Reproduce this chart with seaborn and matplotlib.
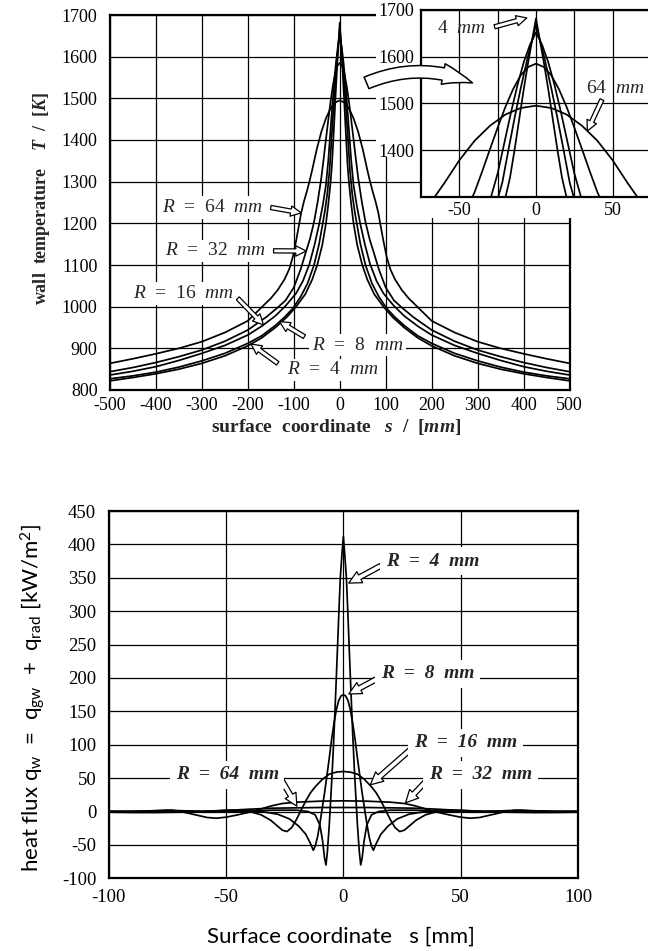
import numpy as np
import pandas as pd
import matplotlib
matplotlib.use("Agg")
import matplotlib.pyplot as plt
from matplotlib.patches import Rectangle, FancyArrowPatch
import seaborn as sns

# ---------------------------------------------------------------------------
# Wall temperature T [K] versus surface coordinate s [mm]; half-profiles for
# s >= 0, the distributions are symmetric about the stagnation line s = 0.
# ---------------------------------------------------------------------------
radii_mm = [4, 8, 16, 32, 64]

temp_s_r4 = [0, 2, 5, 8, 11, 14, 17, 20, 25, 30, 38, 49, 60, 75, 95, 115,
             140, 170, 200, 250, 300, 350, 400, 450, 500]
temp_T_r4 = [1682, 1645, 1590, 1530, 1465, 1400, 1340, 1298, 1245, 1200,
             1148, 1100, 1065, 1030, 1000, 975, 950, 925, 906, 882, 864,
             850, 839, 830, 822]

temp_s_r8 = [0, 3, 6, 10, 14, 18, 22, 27, 32, 37, 45, 56, 70, 85, 102, 120,
             140, 170, 200, 250, 300, 350, 400, 450, 500]
temp_T_r8 = [1668, 1630, 1590, 1532, 1468, 1400, 1330, 1272, 1232, 1200,
             1150, 1100, 1056, 1024, 996, 975, 955, 930, 912, 888, 870, 855,
             843, 834, 827]

temp_s_r16 = [0, 4, 8, 12, 16, 20, 25, 30, 37, 45, 55, 66, 80, 95, 117, 140,
              170, 200, 250, 300, 350, 400, 450, 500]
temp_T_r16 = [1652, 1625, 1588, 1540, 1485, 1425, 1350, 1292, 1243, 1197,
              1148, 1102, 1062, 1032, 1003, 978, 953, 932, 907, 888, 871,
              856, 845, 836]

temp_s_r32 = [0, 5, 10, 15, 20, 25, 30, 35, 40, 48, 56, 65, 74, 85, 100,
              118, 136, 160, 200, 250, 300, 350, 400, 450, 500]
temp_T_r32 = [1585, 1578, 1560, 1530, 1492, 1448, 1402, 1355, 1310, 1252,
              1203, 1162, 1130, 1090, 1046, 1015, 997, 975, 944, 917, 896,
              880, 866, 854, 844]

temp_s_r64 = [0, 10, 20, 30, 40, 50, 60, 66, 72, 78, 84, 88, 95, 102, 110,
              120, 135, 150, 164, 200, 250, 300, 350, 400, 450, 500]
temp_T_r64 = [1495, 1490, 1476, 1452, 1420, 1378, 1328, 1300, 1275, 1252,
              1225, 1200, 1158, 1120, 1090, 1066, 1040, 1020, 1005, 966, 938,
              916, 900, 887, 875, 864]

# ---------------------------------------------------------------------------
# Wall heat flux q_w [kW/m^2] versus s [mm]; half-profiles for s >= 0.
# ---------------------------------------------------------------------------
flux_s_r4 = [0, 0.6, 1.3, 2.0, 3.0, 4.0, 4.5, 5.2, 6.0, 6.8, 7.4, 8.0, 8.8,
             10, 12, 15, 20, 30, 45, 60, 75, 90, 100]
flux_q_r4 = [412, 385, 350, 290, 200, 115, 77, 30, -20, -60, -80, -70, -45,
             -20, -5, 0, 2, 2, 0, 0, 2, 0, 0]

flux_s_r8 = [0, 1, 2, 3, 4, 5, 6, 7, 8, 9, 10, 11, 12, 12.8, 14, 16, 19, 23,
             28, 35, 45, 60, 75, 90, 100]
flux_q_r8 = [175, 173, 166, 152, 132, 108, 80, 54, 28, 5, -18, -38, -52, -58,
             -48, -34, -22, -11, -4, 0, 1, 0, 1, 0, 0]

flux_s_r16 = [0, 3, 6, 9, 12, 14, 16, 18, 20, 22, 24, 26, 28, 31, 35, 40, 45,
              50, 60, 70, 80, 100]
flux_q_r16 = [60, 59, 56, 48, 37, 28, 16, 2, -12, -24, -30, -28, -22, -13, -5,
              0, 2, 2, 0, 0, 0, 0]

flux_s_r32 = [0, 10, 20, 26, 30, 35, 40, 45, 50, 54, 58, 63, 68, 73, 80, 90,
              100]
flux_q_r32 = [16, 15.5, 14, 12, 9, 4, -1, -5, -8.5, -10, -9, -5, -1, 2, 1, 0,
              0]

flux_s_r64 = [0, 10, 20, 30, 40, 50, 60, 70, 80, 90, 100]
flux_q_r64 = [6, 6, 5.5, 5, 3.5, 1.5, 0, -1, -1.5, -1.5, -1]

main_xticks = list(range(-500, 501, 100))
main_yticks = list(range(800, 1701, 100))
inset_xticks = [-50, -25, 0, 25, 50]
inset_xticklabels = ["-50", "", "0", "", "50"]
inset_yticks = [1400, 1500, 1600, 1700]
flux_xticks = [-100, -50, 0, 50, 100]
flux_yticks = list(range(-100, 451, 50))


def full_profile(s_half, v_half):
    """Mirror a half-profile (s >= 0) onto s < 0."""
    s = np.asarray(s_half, float)
    v = np.asarray(v_half, float)
    return np.concatenate([-s[:0:-1], s]), np.concatenate([v[:0:-1], v])


temp_half = {4: (temp_s_r4, temp_T_r4), 8: (temp_s_r8, temp_T_r8),
             16: (temp_s_r16, temp_T_r16), 32: (temp_s_r32, temp_T_r32),
             64: (temp_s_r64, temp_T_r64)}
flux_half = {4: (flux_s_r4, flux_q_r4), 8: (flux_s_r8, flux_q_r8),
             16: (flux_s_r16, flux_q_r16), 32: (flux_s_r32, flux_q_r32),
             64: (flux_s_r64, flux_q_r64)}

rows_T, rows_q = [], []
for r in radii_mm:
    s, v = full_profile(*temp_half[r])
    rows_T.append(pd.DataFrame({"s": s, "T": v, "R": r}))
    s, v = full_profile(*flux_half[r])
    rows_q.append(pd.DataFrame({"s": s, "q": v, "R": r}))
df_T = pd.concat(rows_T, ignore_index=True)
df_q = pd.concat(rows_q, ignore_index=True)


def temp_at(r, s):
    return float(np.interp(abs(s), temp_half[r][0], temp_half[r][1]))


# ---------------------------------------------------------------------------
sns.set_style("white")
plt.rcParams.update({
    "font.family": ["Liberation Serif", "DejaVu Serif"],
    "axes.unicode_minus": False,
    "mathtext.fontset": "custom",
    "mathtext.rm": "Liberation Serif",
    "mathtext.it": "Liberation Serif:italic",
    "mathtext.bf": "Liberation Serif:italic:bold",
})

W, H = 648, 951
fig = plt.figure(figsize=(W / 100, H / 100), dpi=100)
fig.patch.set_facecolor("white")


def fx(px):
    return px / W


def fy(py):
    return 1 - py / H


def box(left, top, right, bottom):
    return [fx(left), fy(bottom), fx(right) - fx(left), fy(top) - fy(bottom)]


LINE = dict(color="black", lw=1.25, estimator=None, legend=False)
GRID = dict(color="black", lw=0.9)
LABEL_BOX = dict(facecolor="white", edgecolor="none", pad=2.0)


def style_axes(ax, spine_lw=1.6):
    for sp in ax.spines.values():
        sp.set_color("black")
        sp.set_linewidth(spine_lw)
    ax.grid(True, **GRID)
    ax.set_axisbelow(True)


def hollow_arrow(ax, tail, tip, scale=10, zorder=5):
    ax.annotate("", xy=tip, xytext=tail, zorder=zorder,
                arrowprops=dict(arrowstyle="simple,head_length=0.75,head_width=0.75,tail_width=0.3",
                                fc="white", ec="black", lw=0.9,
                                mutation_scale=scale, shrinkA=0, shrinkB=0))


# ---------------- wall temperature, full range ------------------------------
ax = fig.add_axes(box(110, 15, 569.5, 390), zorder=0)
sns.lineplot(data=df_T, x="s", y="T", units="R", ax=ax, **LINE)
ax.set_xlim(-500, 500)
ax.set_ylim(800, 1700)
ax.set_xticks(main_xticks)
ax.set_yticks(main_yticks)
style_axes(ax)
ax.tick_params(length=0, labelsize=13, colors="black")
ax.tick_params(axis="x", pad=5)
ax.tick_params(axis="y", pad=9)
ax.set_xlabel(r"surface  coordinate   $\mathbf{s}$  /  [$\mathbf{mm}$]",
              fontsize=14, fontweight="bold", va="center")
ax.xaxis.set_label_coords(0.492, -0.098)
ax.set_ylabel(r"wall  temperature    $\mathbf{T}$  /  [$\mathbf{K}$]",
              fontsize=13, fontweight="bold", va="center")
ax.yaxis.set_label_coords(-0.150, 0.512)

temp_labels = [
    (64, r"$R$  =  64  $mm$", (-277, 1238), (-150, 1238), -84),
    (32, r"$R$  =  32  $mm$", (-271, 1134), (-144, 1134), -73),
    (16, r"$R$  =  16  $mm$", (-341, 1032), (-222, 1020), -166),
    (8, r"$R$  =  8  $mm$", (38, 908), (-77, 928), -131),
    (4, r"$R$  =  4  $mm$", (-16, 848), (-135, 864), -193),
]
for r, txt, pos, tail, tip_s in temp_labels:
    ax.text(*pos, txt, fontsize=14, ha="center", va="center", zorder=6,
            bbox=LABEL_BOX)
    hollow_arrow(ax, tail, (tip_s, temp_at(r, tip_s)), scale=10)

# white field behind the enlarged view and its tick labels
fig.add_artist(Rectangle((fx(376), fy(157)), fx(421) - fx(376), fy(0) - fy(157),
                         transform=fig.transFigure, facecolor="white",
                         edgecolor="none", zorder=1))
fig.add_artist(Rectangle((fx(421), fy(218)), fx(W) - fx(421), fy(0) - fy(218),
                         transform=fig.transFigure, facecolor="white",
                         edgecolor="none", zorder=1))

# ---------------- wall temperature, enlarged view of the peak ---------------
axi = fig.add_axes(box(421, 10, 651, 196.7), zorder=2)
sns.lineplot(data=df_T, x="s", y="T", units="R", ax=axi, **LINE)
axi.set_xlim(-75, 75)
axi.set_ylim(1300, 1700)
axi.set_xticks(inset_xticks)
axi.set_xticklabels(inset_xticklabels)
axi.set_yticks(inset_yticks)
style_axes(axi)
axi.tick_params(length=0, labelsize=13, colors="black")
axi.tick_params(axis="x", pad=4)
axi.tick_params(axis="y", pad=5)
axi.set_xlabel("")
axi.set_ylabel("")

axi.text(-48.6, 1661, r"4  $mm$", fontsize=14, ha="center", va="center", zorder=6)
hollow_arrow(axi, (-27, 1664), (-6, 1683), scale=10)
axi.text(52, 1531, r"64  $mm$", fontsize=14, ha="center", va="center", zorder=6)
hollow_arrow(axi, (43, 1508), (33.5, temp_at(64, 33.5)), scale=10)

# curved pointer from the peak region to the enlarged view
fig.add_artist(FancyArrowPatch(
    (fx(364), fy(84)), (fx(475), fy(84)), transform=fig.transFigure,
    arrowstyle="simple,head_length=22,head_width=15,tail_width=9",
    connectionstyle="arc3,rad=-0.22", mutation_scale=1,
    facecolor="white", edgecolor="black", lw=1.1, zorder=6))

# ---------------- wall heat flux -------------------------------------------
axq = fig.add_axes(box(108.7, 511, 578, 878.3), zorder=0)
sns.lineplot(data=df_q, x="s", y="q", units="R", ax=axq, **LINE)
axq.set_xlim(-100, 100)
axq.set_ylim(-100, 450)
axq.set_xticks(flux_xticks)
axq.set_yticks(flux_yticks)
style_axes(axq)
axq.tick_params(length=0, labelsize=13.5, colors="black")
axq.tick_params(axis="x", pad=8)
axq.tick_params(axis="y", pad=9)
sans = dict(family=["Lato", "DejaVu Sans"], weight="normal", color="black")
axq.set_xlabel("Surface coordinate   s [mm]", fontsize=16, va="center", **sans)
axq.xaxis.set_label_coords(0.495, -0.160)
axq.set_ylabel(r"heat flux q$_\mathregular{w}$  =  q$_\mathregular{gw}$  +  "
               r"q$_\mathregular{rad}$ [kW/m$^\mathregular{2}$]",
               fontsize=16, va="center", **sans)
axq.yaxis.set_label_coords(-0.163, 0.491)

flux_labels = [
    (r"R  =  4  mm", (38, 375), (16, 368), (2.3, 342)),
    (r"R  =  8  mm", (36, 206), (14, 198), (2.3, 176)),
    (r"R  =  16  mm", (52, 103), (29, 94), (11.5, 40)),
    (r"R  =  32  mm", (58.5, 55), (35.4, 46), (26.5, 13)),
    (r"R  =  64  mm", (-49.5, 55), (-26.5, 48), (-19.8, 8)),
]
for txt, pos, tail, tip in flux_labels:
    axq.text(*pos, txt, fontsize=14, style="italic", fontweight="bold",
             ha="center", va="center", zorder=6,
             bbox=dict(facecolor="white", edgecolor="none", pad=4))
    hollow_arrow(axq, tail, tip, scale=12)

fig.savefig("out.png", dpi=100, facecolor="white")
